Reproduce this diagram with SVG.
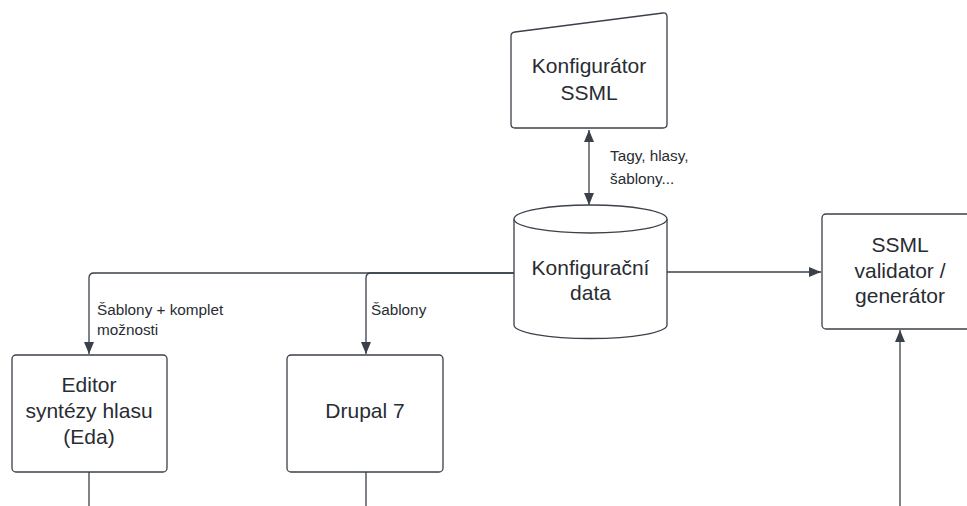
<svg xmlns="http://www.w3.org/2000/svg" width="967" height="506" viewBox="0 0 967 506">
<defs>
<marker id="ah" viewBox="0 0 12 10" refX="12" refY="5" markerWidth="12" markerHeight="10" markerUnits="userSpaceOnUse" orient="auto-start-reverse">
<path d="M0,0 L12,5 L0,10 Z" fill="#3a414a"/>
</marker>
</defs>
<style>
.shape{fill:#ffffff;stroke:#3a414a;stroke-width:1.3}
.conn{fill:none;stroke:#3a414a;stroke-width:1.3}
.t{font-family:"Liberation Sans",Arial,sans-serif;font-size:21px;fill:#282c33;text-anchor:middle}
.l{font-family:"Liberation Sans",Arial,sans-serif;font-size:15.3px;fill:#282c33}
</style>
<rect width="967" height="506" fill="#ffffff"/>
<g id="connectors">
<path class="conn" d="M589,130 L589,205" marker-start="url(#ah)" marker-end="url(#ah)"/>
<path class="conn" d="M514,273 L94,273 Q89,273 89,278 L89,354" marker-end="url(#ah)"/>
<path class="conn" d="M514,273 L371,273 Q366,273 366,278 L366,354" marker-end="url(#ah)"/>
<path class="conn" d="M667,272 L821,272" marker-end="url(#ah)"/>
<path class="conn" d="M900,506 L900,330" marker-end="url(#ah)"/>
<path class="conn" d="M89,472 L89,506"/>
<path class="conn" d="M366,472 L366,506"/>
<text class="l" x="610" y="161">Tagy, hlasy,</text>
<text class="l" x="610" y="184">šablony...</text>
<text class="l" x="97" y="315">Šablony + komplet</text>
<text class="l" x="97" y="335">možnosti</text>
<text class="l" x="371" y="315">Šablony</text>
</g>
<g id="konfigurator">
<path class="shape" d="M515,32 L663,13 Q667,12.5 667,17 L667,124 Q667,128 663,128 L515,128 Q511,128 511,124 L511,36 Q511,32.5 515,32 Z"/>
<text class="t" x="589" y="73">Konfigurátor</text>
<text class="t" x="589" y="100">SSML</text>
</g>
<g id="data">
<path class="shape" d="M514,219 L514,325 A76.5,13.5 0 0 0 667,325 L667,219"/>
<ellipse class="shape" cx="590.5" cy="219" rx="76.5" ry="14"/>
<text class="t" x="590.5" y="275">Konfigurační</text>
<text class="t" x="590.5" y="300">data</text>
</g>
<g id="editor">
<rect class="shape" x="12" y="355" width="155" height="117" rx="4"/>
<text class="t" x="89" y="392">Editor</text>
<text class="t" x="89" y="418">syntézy hlasu</text>
<text class="t" x="89" y="444">(Eda)</text>
</g>
<g id="drupal">
<rect class="shape" x="287" y="355" width="156" height="117" rx="4"/>
<text class="t" x="365" y="418">Drupal 7</text>
</g>
<g id="validator">
<rect class="shape" x="822" y="214" width="156" height="115" rx="4"/>
<text class="t" x="900" y="252">SSML</text>
<text class="t" x="900" y="278">validator /</text>
<text class="t" x="900" y="303">generátor</text>
</g>
</svg>
